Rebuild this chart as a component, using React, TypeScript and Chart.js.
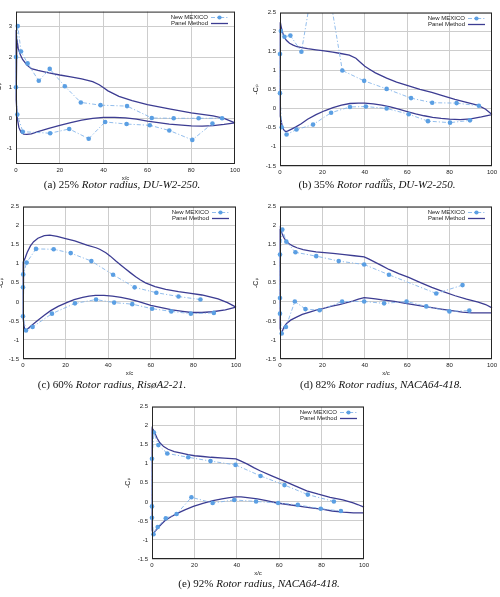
import React, { useEffect, useRef } from 'react';
import { Chart, registerables } from 'chart.js';

Chart.register(...registerables);

// ---------- tick labels / legend ----------
const xTicks = [0, 20, 40, 60, 80, 100];
const yTicksA = [-1, 0, 1, 2, 3];
const yTicksHalf = [-1.5, -1, -0.5, 0, 0.5, 1, 1.5, 2, 2.5];
const legendLabels = ['New MEXICO', 'Panel Method'];

// ---------- (a) 25% DU-W2-250 ----------
const aNewMexico = [
  [94.1, 0.0], [83.4, 0.0], [72, 0.0], [62, 0.01], [50.7, 0.4], [38.6, 0.43], [29.6, 0.52], [22.3, 1.05],
  [15.4, 1.62], [10.4, 1.23], [5.3, 1.8], [2.3, 2.19], [0.8, 3.03], [0, 2.01], [0, 1.02], [0.6, 0.12],
  [3.1, -0.44], [15.6, -0.49], [24.3, -0.35], [33.2, -0.67], [40.7, -0.12], [50.5, -0.19], [61.1, -0.23],
  [70, -0.4], [80.5, -0.71], [89.7, -0.17],
];
const aPanel = [
  [100, -0.15], [95, 0.0], [90, 0.08], [80, 0.18], [70, 0.31], [60, 0.45], [53, 0.58], [47, 0.72], [42, 0.9],
  [40, 1.0], [38, 1.1], [35, 1.2], [30, 1.29], [25, 1.36], [20, 1.42], [15, 1.49], [10, 1.57], [7, 1.63],
  [5, 1.75], [3, 1.93], [2, 2.08], [1, 2.3], [0.4, 2.6], [0.05, 2.9],
  [0, 2.5], [0.05, 1.5], [0.2, 0.6], [0.6, 0.0], [1.3, -0.3], [2.3, -0.46], [3.5, -0.52], [5, -0.53],
  [7, -0.51], [10, -0.44], [15, -0.33], [20, -0.23], [25, -0.14], [30, -0.06], [35, 0.0], [40, 0.03],
  [45, 0.03], [50, 0.01], [55, -0.03], [60, -0.09], [65, -0.14], [70, -0.19], [80, -0.25], [85, -0.26],
  [90, -0.24], [95, -0.2], [100, -0.15],
];

// ---------- (b) 35% DU-W2-250 ----------
const bNewMexico = [
  [93.8, 0.07], [83.3, 0.14], [71.8, 0.15], [61.8, 0.27], [50.3, 0.51], [39.7, 0.72], [29.4, 0.99],
  [19.1, 4.4], [10.1, 1.48], [4.9, 1.9], [2.1, 1.87], [0.4, 2.02], [0, 1.42], [0, 0.4], [0.8, -0.49],
  [3.1, -0.68], [7.8, -0.55], [15.6, -0.42], [24.1, -0.11], [33, 0.04], [40.5, 0.05], [50.3, 0.0],
  [60.7, -0.15], [69.8, -0.33], [80.2, -0.37], [89.6, -0.31],
];
const bPanel = [
  [100, -0.16], [97, -0.02], [93.5, 0.08], [88, 0.16], [82.5, 0.24], [77, 0.33], [71.6, 0.42], [66, 0.5],
  [60.7, 0.59], [55, 0.69], [50.3, 0.79], [45, 0.93], [42, 1.03], [40, 1.1], [38, 1.2], [35.8, 1.31],
  [32.7, 1.39], [28, 1.44], [24.9, 1.47], [20, 1.51], [17, 1.53], [13, 1.56], [10.9, 1.58], [8, 1.61],
  [6.2, 1.65], [4.5, 1.7], [3.1, 1.77], [2.2, 1.84], [1.6, 1.92], [1, 2.02], [0.5, 2.15], [0.15, 2.25],
  [0, 2.1], [0, 1.2], [0.1, 0.3], [0.4, -0.2], [1, -0.45], [1.8, -0.56], [2.6, -0.6], [3.5, -0.59],
  [5, -0.55], [7.5, -0.48], [10, -0.4], [13, -0.28], [17, -0.16], [21, -0.06], [25, 0.02], [29, 0.09],
  [33, 0.13], [37, 0.14], [40, 0.14], [44, 0.12], [48, 0.09], [52, 0.04], [56, -0.02], [60, -0.08],
  [64, -0.14], [68, -0.19], [72, -0.23], [76, -0.26], [80, -0.28], [85, -0.29], [90, -0.27], [95, -0.22],
  [100, -0.16],
];

// ---------- (c) 60% RisoA2-21 ----------
const cNewMexico = [
  [83.3, 0.06], [73, 0.14], [62.6, 0.24], [52.4, 0.38], [42.3, 0.71], [32.1, 1.07], [22.4, 1.28],
  [14.4, 1.38], [6.1, 1.39], [1.7, 1.03], [0.1, 0.72], [0, 0.38], [0, -0.38], [1.4, -0.75], [4.5, -0.66],
  [13.6, -0.31], [24.4, -0.04], [34.3, 0.06], [42.8, -0.02], [51.3, -0.06], [60.6, -0.18], [69.6, -0.25],
  [78.8, -0.31], [89.6, -0.29],
];
const cPanel = [
  [100, -0.14], [96, -0.02], [91.6, 0.08], [84, 0.18], [78, 0.23], [73, 0.27], [67, 0.33], [62, 0.4],
  [57.5, 0.5], [55, 0.58], [52.9, 0.66], [50.5, 0.76], [48.2, 0.86], [46, 0.96], [43.6, 1.07], [41, 1.2],
  [38.9, 1.29], [36, 1.38], [34.3, 1.42], [30, 1.49], [24.3, 1.6], [20, 1.66], [16, 1.72], [12.6, 1.75],
  [10, 1.74], [7, 1.67], [5, 1.58], [3.5, 1.47], [2, 1.3], [1, 1.15], [0.3, 1.06], [0, 1.0],
  [0, 0.5], [0.1, 0.0], [0.3, -0.45], [0.6, -0.68], [1, -0.75], [2, -0.72], [4, -0.62], [7, -0.48],
  [10, -0.35], [13, -0.23], [16.5, -0.12], [20.5, -0.02], [24, 0.06], [28, 0.12], [31, 0.15], [34, 0.17],
  [38, 0.17], [42, 0.15], [46, 0.12], [50, 0.07], [54, 0.01], [57, -0.04], [60, -0.09], [65, -0.15],
  [70, -0.21], [75, -0.25], [79, -0.28], [84, -0.28], [89, -0.26], [95, -0.21], [100, -0.14],
];

// ---------- (d) 82% NACA64-418 ----------
const dNewMexico = [
  [86.1, 0.44], [73.7, 0.22], [51.4, 0.71], [39.7, 0.98], [27.7, 1.07], [17.1, 1.2], [7.3, 1.3],
  [3.0, 1.58], [1.1, 1.9], [0, 1.24], [0, 0.1], [0, -0.31], [0.8, -0.83], [2.8, -0.66], [7.0, 0.01],
  [12, -0.19], [18.7, -0.22], [29.3, 0.01], [39.7, 0.01], [49.1, -0.04], [59.7, 0.01], [69, -0.12],
  [79.9, -0.25], [89.3, -0.23],
];
const dPanel = [
  [100, -0.16], [97, -0.07], [93.5, -0.01], [88, 0.07], [82.6, 0.16], [77, 0.27], [71.6, 0.38], [66, 0.51],
  [60.7, 0.64], [56, 0.74], [51.4, 0.85], [48, 0.95], [45.2, 1.03], [42, 1.12], [39.7, 1.18], [35, 1.21],
  [30.4, 1.24], [25, 1.27], [21, 1.29], [17, 1.31], [14, 1.34], [10.9, 1.37], [8, 1.42], [6.2, 1.46],
  [4.5, 1.52], [3.1, 1.58], [2.2, 1.65], [1.6, 1.71], [0.8, 1.82], [0.2, 1.91],
  [0, 1.5], [0, 0.5], [0.05, -0.3], [0.2, -0.7], [0.5, -0.83], [1, -0.78], [2, -0.65], [3.1, -0.57],
  [5, -0.48], [7.8, -0.4], [10.5, -0.33], [14, -0.27], [17, -0.22], [20.2, -0.18], [24, -0.12], [28, -0.07],
  [31, -0.03], [34.3, 0.02], [37, 0.07], [39.7, 0.11], [42, 0.1], [45, 0.08], [48.3, 0.05], [54, 0.01],
  [59.2, -0.04], [65, -0.09], [70.1, -0.14], [76, -0.19], [81, -0.23], [86, -0.27], [90.3, -0.29],
  [95, -0.29], [100, -0.29],
];

// ---------- (e) 92% NACA64-418 ----------
const eNewMexico = [
  [85.8, 0.01], [73.5, 0.19], [62.5, 0.44], [51.2, 0.68], [39.4, 0.97], [27.6, 1.07], [17.1, 1.17],
  [7.2, 1.27], [3.0, 1.49], [0.9, 1.82], [0, 1.13], [0, -0.12], [0, -0.42], [0.7, -0.85], [2.7, -0.66],
  [6.5, -0.43], [11.6, -0.32], [18.6, 0.12], [28.6, -0.03], [38.8, 0.05], [49.1, 0.01], [59.5, -0.03],
  [68.8, -0.08], [79.6, -0.18], [89.1, -0.24],
];
const ePanel = [
  [100, -0.14], [97, -0.07], [94.9, -0.03], [90, 0.05], [84, 0.12], [78.5, 0.2], [73, 0.29], [67.5, 0.42],
  [62.1, 0.55], [56.5, 0.68], [51.2, 0.81], [48, 0.9], [45, 0.99], [42, 1.07], [39.6, 1.13], [34, 1.15],
  [27.9, 1.17], [24, 1.19], [20.1, 1.21], [17, 1.24], [13.9, 1.28], [10.5, 1.32], [7.6, 1.38], [5.5, 1.45],
  [3.7, 1.55], [2.4, 1.67], [1.4, 1.8], [0.6, 1.89], [0.1, 1.93],
  [0, 1.6], [0, 0.5], [0.05, -0.4], [0.2, -0.75], [0.5, -0.83], [1.2, -0.79], [2.8, -0.68], [4.5, -0.58],
  [6.2, -0.49], [9, -0.39], [11.7, -0.31], [15.5, -0.21], [19.5, -0.12], [24, -0.04], [28.8, 0.03],
  [33, 0.08], [36.5, 0.11], [39.5, 0.13], [42, 0.13], [45, 0.11], [49.7, 0.08], [54, 0.03], [59, -0.03],
  [64, -0.07], [70, -0.12], [75, -0.16], [80.8, -0.2], [85, -0.24], [90.2, -0.27], [95, -0.29], [100, -0.29],
];

// ---------- styles ----------
const NM_LINE = '#86b6ea';
const NM_POINT = '#5b9fe3';
const PM_LINE = '#3c3c92';
const NM_DASH = [4, 2, 1.2, 2];
const SANS = '"Liberation Sans", Arial, "DejaVu Sans", sans-serif';
const TEXT = '#222222';

type Spec = {
  L: number; T: number; R: number; B: number; W: number;
  yMin: number; yMax: number; yTicks: number[];
  nm: number[][]; pm: number[][];
  label: string; name: string; capX: number; capY: number;
};

const specs: Spec[] = [
  { L: 16, T: 10, R: 237, B: 164, W: 21, yMin: -1.5, yMax: 3.5, yTicks: yTicksA, nm: aNewMexico, pm: aPanel,
    label: '(a) 25% ', name: 'Rotor radius, DU-W2-250.', capX: 122, capY: 184 },
  { L: 280, T: 11, R: 494, B: 166, W: 28, yMin: -1.5, yMax: 2.5, yTicks: yTicksHalf, nm: bNewMexico, pm: bPanel,
    label: '(b) 35% ', name: 'Rotor radius, DU-W2-250.', capX: 377, capY: 184 },
  { L: 23, T: 205, R: 238, B: 359, W: 26, yMin: -1.5, yMax: 2.5, yTicks: yTicksHalf, nm: cNewMexico, pm: cPanel,
    label: '(c) 60% ', name: 'Rotor radius, RisøA2-21.', capX: 112, capY: 384 },
  { L: 280, T: 205, R: 494, B: 359, W: 28, yMin: -1.5, yMax: 2.5, yTicks: yTicksHalf, nm: dNewMexico, pm: dPanel,
    label: '(d) 82% ', name: 'Rotor radius, NACA64-418.', capX: 381, capY: 384 },
  { L: 152, T: 405, R: 366, B: 559, W: 28, yMin: -1.5, yMax: 2.5, yTicks: yTicksHalf, nm: eNewMexico, pm: ePanel,
    label: '(e) 92% ', name: 'Rotor radius, NACA64-418.', capX: 259, capY: 583 },
];

const PAD_T = 6;
const PAD_R = 6;
const X_H = 18;
const POINT_R = 2.3;

const frameLegendPlugin = {
  id: 'frameLegend',
  afterDraw(chart: any) {
    const { ctx, chartArea: a } = chart;
    ctx.save();
    ctx.strokeStyle = '#262626';
    ctx.lineWidth = 1;
    ctx.setLineDash([]);
    ctx.strokeRect(a.left + 0.5, a.top + 0.5, a.right - a.left - 1, a.bottom - a.top - 1);

    ctx.font = `6px ${SANS}`;
    ctx.textAlign = 'right';
    ctx.textBaseline = 'middle';
    const sR = a.right - 7;
    const sL = sR - 17;
    legendLabels.forEach((lab, i) => {
      const y = Math.round(a.top + 5 + i * 6.2) + 0.5;
      ctx.fillStyle = TEXT;
      ctx.fillText(lab, sL - 3, y);
      ctx.beginPath();
      if (i === 0) {
        ctx.strokeStyle = NM_LINE;
        ctx.lineWidth = 0.9;
        ctx.setLineDash(NM_DASH);
      } else {
        ctx.strokeStyle = PM_LINE;
        ctx.lineWidth = 1.3;
        ctx.setLineDash([]);
      }
      ctx.moveTo(sL, y);
      ctx.lineTo(sR, y);
      ctx.stroke();
      ctx.setLineDash([]);
      if (i === 0) {
        ctx.fillStyle = NM_POINT;
        ctx.beginPath();
        ctx.arc((sL + sR) / 2, y, POINT_R - 0.2, 0, Math.PI * 2);
        ctx.fill();
      }
    });
    ctx.restore();
  },
};

function Panel({ s }: { s: Spec }) {
  const ref = useRef<HTMLCanvasElement | null>(null);
  const width = s.R - s.L + s.W + PAD_R;
  const height = s.B - s.T + X_H + PAD_T;
  useEffect(() => {
    if (!ref.current) return;
    const toXY = (arr: number[][]) => arr.map(([x, y]) => ({ x, y }));
    const tickFont = { size: 6, family: SANS };
    const chart = new Chart(ref.current, {
      type: 'scatter',
      data: {
        datasets: [
          {
            label: legendLabels[0],
            data: toXY(s.nm),
            showLine: true,
            borderColor: NM_LINE,
            borderWidth: 0.9,
            borderDash: NM_DASH,
            pointRadius: POINT_R,
            pointBackgroundColor: NM_POINT,
            pointBorderWidth: 0,
            tension: 0,
            clip: { left: 3, top: 0, right: 2, bottom: 0 },
          } as any,
          {
            label: legendLabels[1],
            data: toXY(s.pm),
            showLine: true,
            borderColor: PM_LINE,
            borderWidth: 1.3,
            pointRadius: 0,
            tension: 0,
            clip: { left: 3, top: 0, right: 2, bottom: 0 },
          } as any,
        ],
      },
      options: {
        animation: false,
        responsive: false,
        events: [],
        layout: { padding: { left: 0, top: PAD_T, right: PAD_R, bottom: 0 } },
        plugins: { legend: { display: false }, tooltip: { enabled: false } },
        scales: {
          x: {
            type: 'linear',
            min: 0,
            max: 100,
            afterBuildTicks: (sc: any) => { sc.ticks = xTicks.map((v) => ({ value: v })); },
            afterFit: (sc: any) => { sc.height = X_H; },
            grid: { color: '#cdcdcd', lineWidth: 1, drawTicks: false },
            border: { display: false },
            ticks: { font: tickFont, color: TEXT, padding: 3, maxRotation: 0, autoSkip: false, callback: (v: any) => String(v) },
            title: { display: true, text: 'x/c', font: { size: 6, family: SANS }, color: TEXT, padding: 0 },
          },
          y: {
            type: 'linear',
            min: s.yMin,
            max: s.yMax,
            afterBuildTicks: (sc: any) => { sc.ticks = s.yTicks.map((v) => ({ value: v })); },
            afterFit: (sc: any) => { sc.width = s.W; },
            grid: { color: '#cdcdcd', lineWidth: 1, drawTicks: false },
            border: { display: false },
            ticks: { font: tickFont, color: TEXT, padding: 4, autoSkip: false, callback: (v: any) => String(v) },
            title: { display: true, text: '-Cₚ', font: { size: 7, family: SANS }, color: TEXT, padding: 0 },
          },
        },
      } as any,
      plugins: [frameLegendPlugin],
    });
    return () => chart.destroy();
  }, [s]);
  return (
    <canvas
      ref={ref}
      width={width}
      height={height}
      style={{ position: 'absolute', left: s.L - s.W, top: s.T - PAD_T, width, height, display: 'block' }}
    />
  );
}

export default function App() {
  return (
    <div style={{ position: 'absolute', left: 0, top: 0, width: 500, height: 597, overflow: 'hidden', background: '#fff' }}>
      {specs.map((s, i) => (
        <React.Fragment key={i}>
          <Panel s={s} />
          <div
            style={{
              position: 'absolute', left: s.capX - 150, width: 300, top: s.capY - 7, height: 14,
              lineHeight: '14px', textAlign: 'center', whiteSpace: 'pre',
              fontFamily: '"Liberation Serif", "Times New Roman", serif', fontSize: 11, color: '#111',
            }}
          >
            {s.label}<i>{s.name}</i>
          </div>
        </React.Fragment>
      ))}
    </div>
  );
}
